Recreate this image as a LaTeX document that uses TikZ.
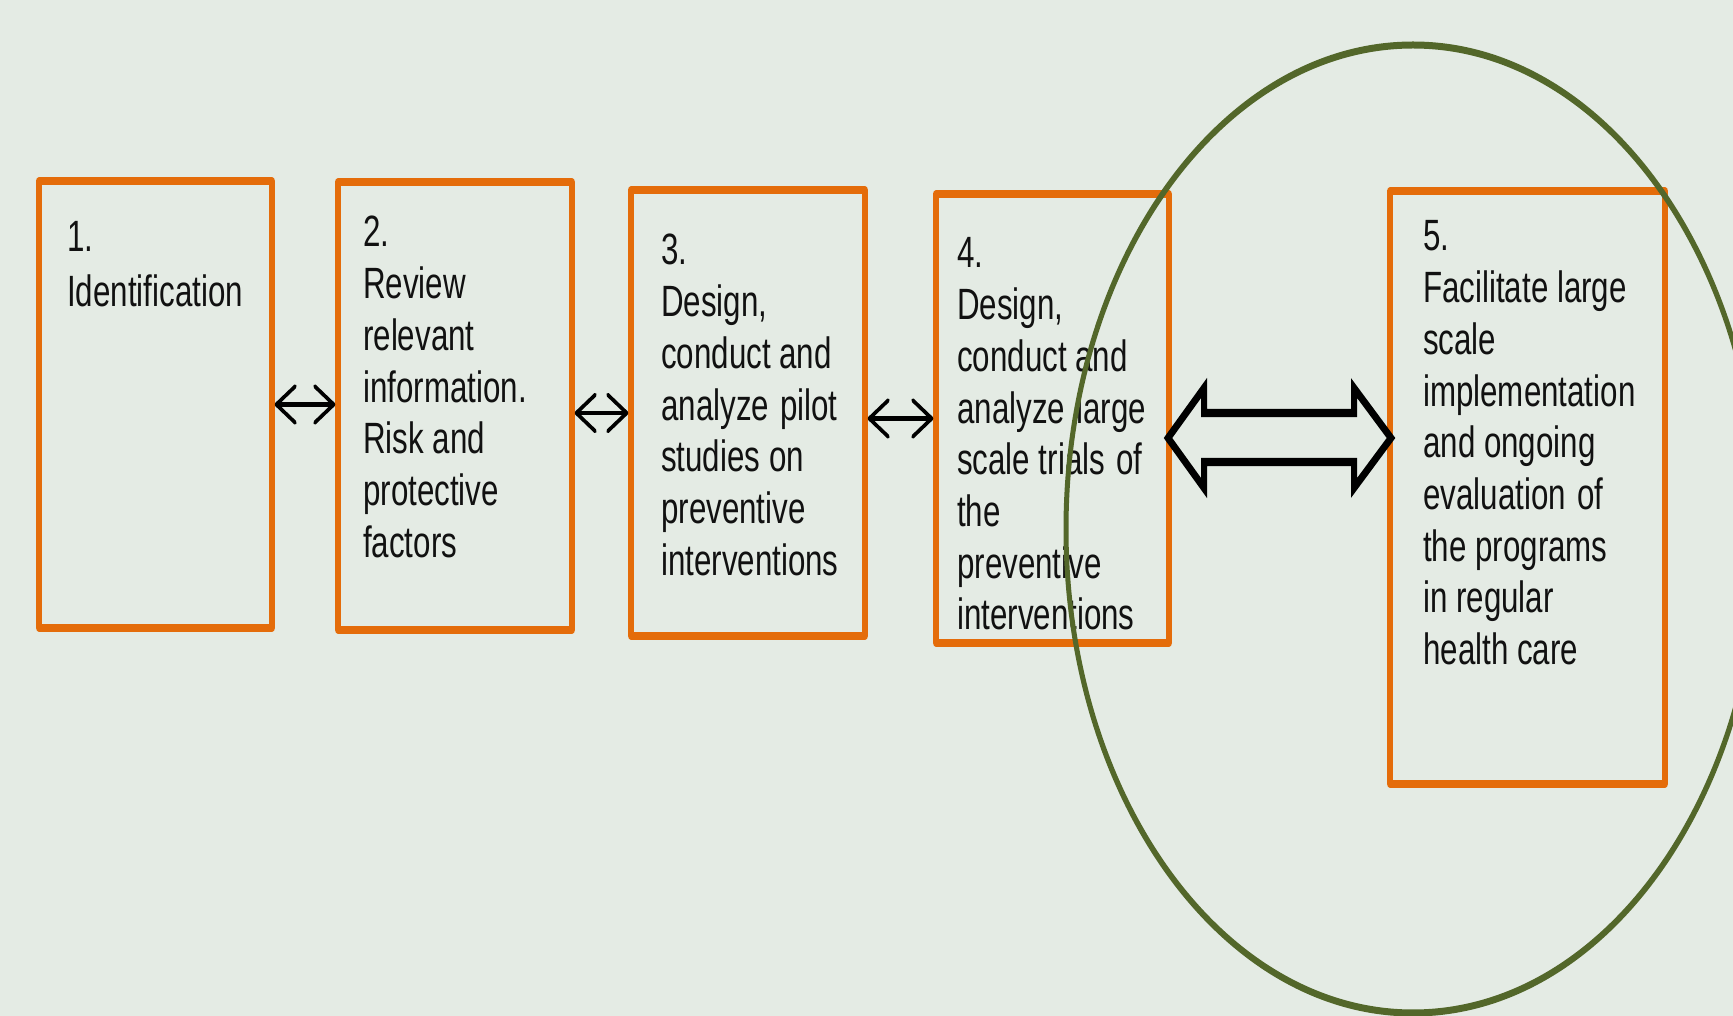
\documentclass[tikz,border=0pt]{standalone}
\usepackage{fontspec}
\setmainfont{Liberation Sans}
\usetikzlibrary{arrows.meta,fit,calc}
\definecolor{bgc}{HTML}{E4EBE4}
\definecolor{boxor}{HTML}{E46C0A}
\definecolor{olivec}{HTML}{53672A}
\definecolor{txtc}{HTML}{111111}
\newcommand{\boxtext}[1]{\parbox[t]{400pt}{\raggedright\fontsize{31.3pt}{36.93pt}\selectfont #1}}
\newcommand{\wsp}{\hspace{0.08em} }
\begin{document}
\begin{tikzpicture}[x=1pt,y=-1pt,
  box/.style={draw=boxor, line width=5.5pt, line join=round, inner sep=0pt},
  txt/.style={inner sep=0pt, text=txtc, anchor=base west},
  sarrow/.style={{Straight Barb[length=19pt,width=26pt,round]}-{Straight Barb[length=19pt,width=26pt,round]}, line width=3pt, black},
  bigarr/.style={draw=black, line width=6pt, line join=miter, miter limit=10},
  ring/.style={draw=olivec, line width=5pt}]
\fill[bgc] (0,0) rectangle (1733,1016);
\useasboundingbox (0,0) rectangle (1733,1016);
\clip (0,0) rectangle (1733,1016);
\begin{scope}[y=-0.714286pt, transform canvas={yscale=1.4}]
  % boxes
  \node[box, fit={(39,181) (272,628)}] (b1) {};
  \node[box, fit={(338,182) (572,630)}] (b2) {};
  \node[box, fit={(631,190) (865,636)}] (b3) {};
  \node[box, fit={(936,194) (1169,643)}] (b4) {};
  \node[box, fit={(1390,191) (1665,784)}] (b5) {};
  % texts
  \node[txt] (t1) at (67,252) {\boxtext{1.\\[2.2pt]Identification}};
  \node[txt] (t2) at (363,247) {\boxtext{2.\\Review\\relevant\\information.\\Risk and\\protective\\factors}};
  \node[txt] (t3) at (661,265) {\boxtext{3.\\Design,\\conduct and\\analyze\wsp pilot\\studies on\\preventive\\interventions}};
  \node[txt] (t4) at (957,268) {\boxtext{4.\\Design,\\conduct and\\analyze\wsp large\\scale trials\wsp of\\the\\preventive\\interventions}};
  \node[txt] (t5) at (1423,251) {\boxtext{5.\\Facilitate large\\scale\\implementation\\and ongoing\\evaluation\wsp of\\the programs\\in regular\\health care}};
  % small arrows
  \draw[sarrow] (b1.east) -- (b1.east -| b2.west);
  \draw[sarrow] (b3.west -| b2.east) -- (b3.west);
  \draw[sarrow] (b4.west -| b3.east) -- (b4.west);
  % big double arrow
  \coordinate (bl) at (1168,438);
  \coordinate (br) at (1391,438);
  \draw[bigarr] (bl) -- ++(36,-50) -- ++(0,25) -- ($(br)+(-37,-25)$) -- ++(0,-25) -- (br)
     -- ++(-37,50) -- ++(0,-26) -- ($(bl)+(36,24)$) -- ++(0,26) -- cycle;
  % ellipse
  \draw[ring] (1413,529) ellipse [x radius=347pt, y radius=345.714pt];
\end{scope}
\end{tikzpicture}
\end{document}
